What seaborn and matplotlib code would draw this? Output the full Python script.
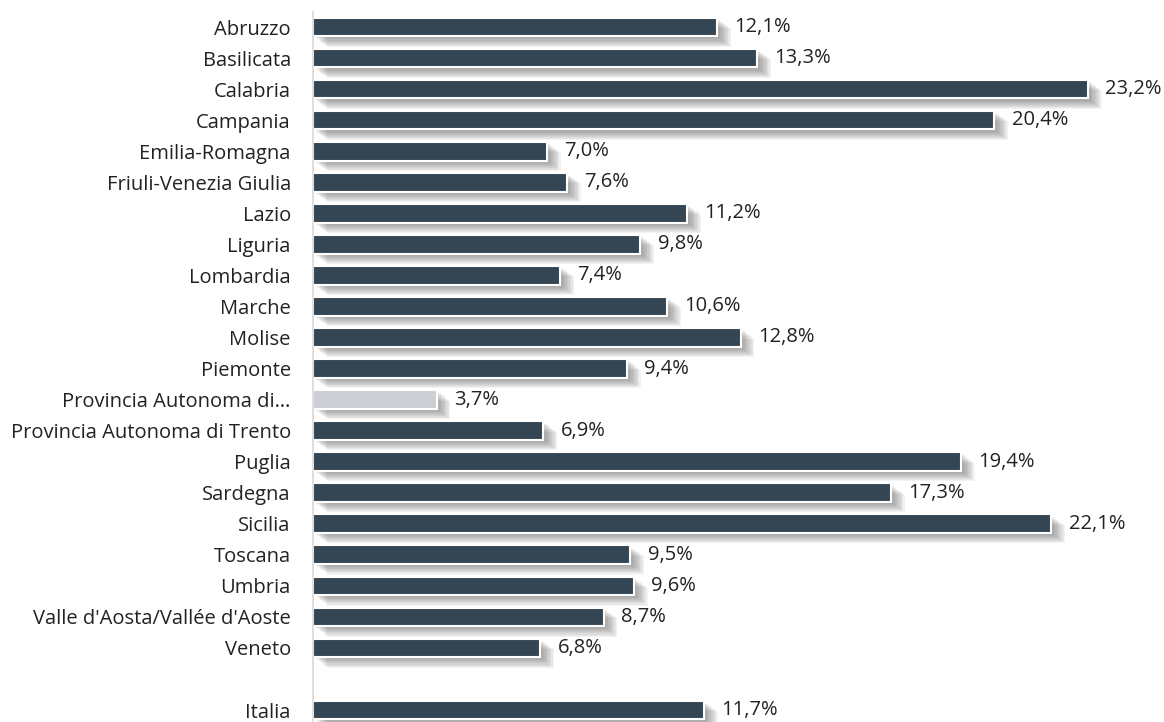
import matplotlib
matplotlib.use("Agg")
import matplotlib.pyplot as plt
import matplotlib.patheffects as pe
import seaborn as sns
import pandas as pd
import numpy as np

regions = ["Abruzzo", "Basilicata", "Calabria", "Campania", "Emilia-Romagna",
           "Friuli-Venezia Giulia", "Lazio", "Liguria", "Lombardia", "Marche",
           "Molise", "Piemonte", "Provincia Autonoma di…",
           "Provincia Autonoma di Trento", "Puglia", "Sardegna", "Sicilia",
           "Toscana", "Umbria", "Valle d'Aosta/Vallée d'Aoste", "Veneto", " ", "Italia"]
values = [12.1, 13.3, 23.2, 20.4, 7.0, 7.6, 11.2, 9.8, 7.4, 10.6, 12.8, 9.4, 3.7,
          6.9, 19.4, 17.3, 22.1, 9.5, 9.6, 8.7, 6.8, np.nan, 11.7]
highlight = "Provincia Autonoma di…"

dark = "#2F4559"
light = "#C9CFD6"

df = pd.DataFrame({"region": regions, "value": values})
palette = {r: (light if r == highlight else dark) for r in regions}

sns.set_theme(style="white")
plt.rcParams['font.family'] = ['Open Sans', 'DejaVu Sans']

fig = plt.figure(figsize=(11.64, 7.22), dpi=100)
ax = fig.add_axes([313/1164, 0.0, 1 - 313/1164, 710.5/722])

sns.barplot(data=df, y="region", x="value", hue="region", palette=palette,
            order=regions, legend=False, width=0.6, ax=ax,
            edgecolor="white", linewidth=1.5, orient="h")

shadow = [pe.SimplePatchShadow(offset=(o, -o * 0.75), shadow_rgbFace="#555555", alpha=0.07)
          for o in [10, 9, 8, 7, 6, 5, 4, 3, 2]]
for p in ax.patches:
    p.set_path_effects(shadow + [pe.Normal()])

for c in ax.containers:
    labels = [("" if np.isnan(v) else f"{v:.1f}%".replace(".", ",")) for v in c.datavalues]
    ax.bar_label(c, labels=labels, padding=12.5, fontsize=14.5, color="#222222")

ax.set_xlim(0, 851/33.4)
ax.set_ylim(22 + 12/31.05, -0.5)
ax.set_xlabel("")
ax.set_ylabel("")
ax.set_xticks([])
ax.tick_params(axis="y", length=0, pad=16, labelsize=14.5, labelcolor="#222222")
for s in ["top", "right", "bottom"]:
    ax.spines[s].set_visible(False)
ax.spines["left"].set_color("#D9D9D9")
ax.spines["left"].set_linewidth(1.2)

fig.savefig("out.png", dpi=100)
